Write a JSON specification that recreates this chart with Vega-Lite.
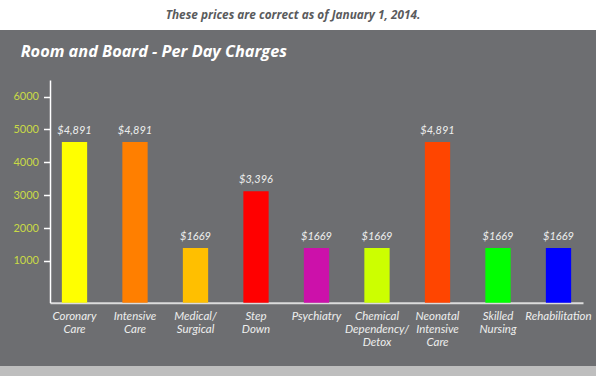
{
  "$schema": "https://vega.github.io/schema/vega-lite/v6.json",
  "padding": 0,
  "background": "white",
  "spacing": 0,
  "bounds": "flush",
  "config": {"view": {"stroke": null}, "font": "Lato"},
  "vconcat": [
    {
      "width": 596,
      "height": 30,
      "view": {"fill": "white", "stroke": null},
      "data": {"values": [{"note": "These prices are correct as of January 1, 2014."}]},
      "mark": {"type": "text", "font": "Open Sans", "fontSize": 11.8, "fontWeight": "bold", "fontStyle": "italic", "color": "#5a5b5d", "baseline": "middle", "align": "center", "dx": -5},
      "encoding": {"text": {"field": "note", "type": "nominal"}}
    },
    {
      "width": 596,
      "height": 336,
      "view": {"fill": "#6d6e71", "stroke": null},
      "title": {"text": "Room and Board - Per Day Charges", "anchor": "start", "frame": "group", "orient": "top", "offset": 0, "dx": 20.7, "dy": 43.6, "baseline": "alphabetic", "font": "Open Sans", "fontSize": 16.3, "fontWeight": "bold", "fontStyle": "italic", "color": "white"},
      "data": {"values": [
        {"unit": "Coronary Care", "charge": 4891, "label": "$4,891"},
        {"unit": "Intensive Care", "charge": 4891, "label": "$4,891"},
        {"unit": "Medical/ Surgical", "charge": 1669, "label": "$1669"},
        {"unit": "Step Down", "charge": 3396, "label": "$3,396"},
        {"unit": "Psychiatry", "charge": 1669, "label": "$1669"},
        {"unit": "Chemical Dependency/ Detox", "charge": 1669, "label": "$1669"},
        {"unit": "Neonatal Intensive Care", "charge": 4891, "label": "$4,891"},
        {"unit": "Skilled Nursing", "charge": 1669, "label": "$1669"},
        {"unit": "Rehabilitation", "charge": 1669, "label": "$1669"}
      ]},
      "encoding": {
        "x": {
          "field": "unit", "type": "nominal", "sort": null,
          "scale": {"range": [50, 583], "paddingInner": 0.582, "paddingOuter": 0.196},
          "axis": {
            "orient": "bottom", "offset": -63.3, "domainColor": "#dcdcdc", "domainWidth": 2,
            "ticks": false, "labelExpr": "split(datum.label, ' ')", "labelAngle": 0,
            "labelFont": "Lato", "labelFontStyle": "italic", "labelFontSize": 11.5,
            "labelColor": "#eeeeee", "labelLineHeight": 13, "labelPadding": 8,
            "labelOverlap": false, "labelBound": false, "labelLimit": 0, "title": null
          }
        },
        "y": {
          "field": "charge", "type": "quantitative",
          "scale": {"domain": [0, 6780], "range": [272.7, 50], "nice": false, "zero": true},
          "axis": {
            "offset": -50,
            "values": [1000, 2000, 3000, 4000, 5000, 6000], "tickOffset": -9,
            "domainColor": "white", "domainWidth": 1.5, "tickColor": "white", "tickWidth": 1.5,
            "tickSize": 6.5, "labelColor": "#c9da46", "labelFont": "Lato", "labelFontSize": 11,
            "labelPadding": 5, "grid": false, "title": null, "labelFlush": false, "format": "d"
          }
        }
      },
      "layer": [
        {
          "mark": {"type": "bar"},
          "encoding": {
            "color": {
              "field": "unit", "type": "nominal", "legend": null,
              "scale": {
                "domain": ["Coronary Care", "Intensive Care", "Medical/ Surgical", "Step Down", "Psychiatry", "Chemical Dependency/ Detox", "Neonatal Intensive Care", "Skilled Nursing", "Rehabilitation"],
                "range": ["#ffff00", "#ff7f00", "#ffbf00", "#ff0000", "#cc11aa", "#ccff00", "#ff4500", "#00ff00", "#0000ff"]
              }
            }
          }
        },
        {
          "mark": {"type": "text", "dy": -8, "baseline": "alphabetic", "font": "Lato", "fontStyle": "italic", "fontSize": 11, "color": "#eeeeee"},
          "encoding": {"text": {"field": "label", "type": "nominal"}}
        }
      ]
    },
    {
      "width": 596,
      "height": 10,
      "view": {"fill": "#bebebe", "stroke": null},
      "data": {"values": []},
      "mark": "point"
    }
  ]
}
